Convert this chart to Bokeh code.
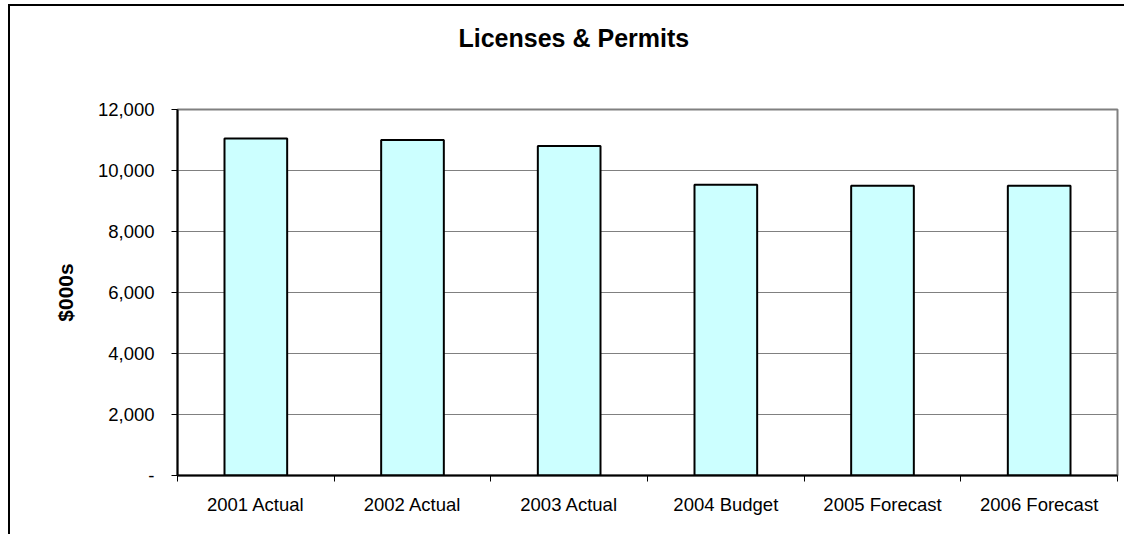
from bokeh.plotting import figure
from bokeh.models import FixedTicker, Range1d, Title
from bokeh.embed import file_html
from bokeh.resources import INLINE

categories = ["2001 Actual", "2002 Actual", "2003 Actual", "2004 Budget", "2005 Forecast", "2006 Forecast"]
values = [11050, 11000, 10800, 9530, 9500, 9500]
y_ticks = [0, 2000, 4000, 6000, 8000, 10000, 12000]
y_labels = ["-", "2,000", "4,000", "6,000", "8,000", "10,000", "12,000"]
title_text = "Licenses & Permits"
y_title = "$000s"

FONT = "Liberation Sans"
n = len(categories)
xs = [i + 0.5 for i in range(n)]

p = figure(width=1116, height=530, output_backend="svg", toolbar_location=None,
           x_range=Range1d(0, n), y_range=Range1d(0, 12000),
           min_border_left=167, min_border_right=9, min_border_top=103, min_border_bottom=61,
           title=title_text)
p.styles = {"border-left": "2px solid black", "border-top": "2px solid black",
            "margin-left": "8px", "margin-top": "4px"}

p.title.align = "left"
p.title.offset = 281
p.title.text_font = FONT
p.title.text_font_size = "25px"
p.title.text_font_style = "bold"
p.title.text_color = "black"
p.title.standoff = 0

# blank spacer between the title and the plot area
p.add_layout(Title(text=" ", text_font_size="1px", standoff=55), "above")

p.vbar(x=xs, top=values, width=0.4, bottom=0, fill_color="#CCFFFF", line_color="black", line_width=2)

p.outline_line_color = "#808080"
p.outline_line_width = 2
p.background_fill_color = "white"
p.border_fill_color = "white"

p.xgrid.grid_line_color = None
p.ygrid.ticker = FixedTicker(ticks=y_ticks)
p.ygrid.grid_line_color = "#808080"
p.ygrid.grid_line_width = 1

ya = p.yaxis[0]
ya.ticker = FixedTicker(ticks=y_ticks)
ya.major_label_overrides = {t: l for t, l in zip(y_ticks, y_labels)}
ya.major_tick_out = 6
ya.major_tick_in = 0
ya.minor_tick_out = 0
ya.minor_tick_in = 0
ya.major_tick_line_color = "black"
ya.axis_line_color = "black"
ya.axis_line_width = 2
ya.major_label_standoff = 17
ya.major_label_text_font = FONT
ya.major_label_text_font_size = "18.5px"
ya.major_label_text_color = "black"
ya.axis_label = y_title
ya.axis_label_text_font = FONT
ya.axis_label_text_font_size = "21px"
ya.axis_label_text_font_style = "bold"
ya.axis_label_text_color = "black"
ya.axis_label_standoff = 18

xa = p.xaxis[0]
xa.ticker = FixedTicker(ticks=xs, minor_ticks=list(range(n + 1)))
xa.major_label_overrides = {x: c for x, c in zip(xs, categories)}
xa.major_tick_out = 0
xa.major_tick_in = 0
xa.minor_tick_out = 6
xa.minor_tick_in = 0
xa.minor_tick_line_color = "black"
xa.axis_line_color = "black"
xa.axis_line_width = 2
xa.major_label_standoff = 12
xa.major_label_text_font = FONT
xa.major_label_text_font_size = "18.5px"
xa.major_label_text_color = "black"

open("out.html", "w").write(file_html(p, INLINE))
